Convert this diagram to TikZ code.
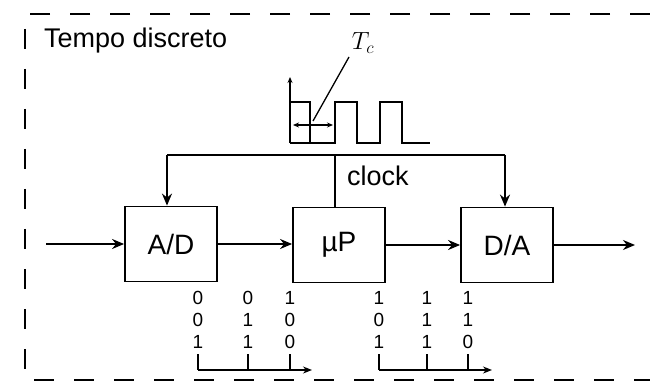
\documentclass[tikz,border=0pt]{standalone}
\usepackage{fontspec}
\setmainfont{Liberation Sans}
\usepackage{tikz}
\usetikzlibrary{arrows.meta,positioning,calc}

\tikzset{
  blk/.style={draw,line width=1.8pt,minimum width=92pt,minimum height=75pt,
    font=\fontsize{28}{30}\selectfont},
  arr/.style={line width=1.8pt,-{Stealth[length=12pt,width=10pt]}},
  bits/.style={align=center,font=\fontsize{19}{22}\selectfont,inner sep=0pt},
  frame/.style={line width=2pt,dash pattern=on 20pt off 20pt},
}

\begin{document}
\begin{tikzpicture}[x=1pt,y=-1pt,line width=1.5pt]
  \useasboundingbox (0,0) rectangle (650,387);
  % frame
  \draw[frame] (650,14) -- (25,14) -- (25,380) -- (650,380);
  \node[anchor=west,font=\fontsize{27}{30}\selectfont] (title) at (40,41) {Tempo discreto};

  % blocks
  \node[blk] (ad) at (171,244) {A/D};
  \node[blk] (up) at (339,245) {µP};
  \node[blk] (da) at (507,245) {D/A};

  \coordinate (in) at (46,244);
  \coordinate (out) at (635,245);
  \draw[arr] (in) -- (ad);
  \draw[arr] (ad) -- (up.west |- ad);
  \draw[arr] (up) -- (da);
  \draw[arr] (da) -- (out);

  % clock
  \coordinate (ckL) at (167,155);
  \coordinate (ckR) at (505,155);
  \draw (ckL) -- (ckR);
  \draw[arr] (ckL) -- (ckL |- ad.north);
  \draw[arr] (ckR) -- (ckR |- da.north);
  \draw (335,155) -- (335,0 |- up.north);
  \node[anchor=west,font=\fontsize{27}{30}\selectfont] (clk) at (343,176) {clock};

  % clock waveform
  \draw[line width=1.3pt,-{Stealth[length=6pt,width=5pt]}] (290,143) -- (290,77);
  \draw[line width=1.6pt] (290,102) -- (310,102) -- (310,143) -- (335,143) -- (335,102)
    -- (357,102) -- (357,143) -- (380,143) -- (380,102) -- (402,102) -- (402,143) -- (430,143);
  \draw[line width=1.3pt] (290,143) -- (310,143);
  \draw[line width=1.3pt,{Stealth[length=6pt,width=5pt]}-{Stealth[length=6pt,width=5pt]}] (293,125) -- (333,125);
  \node[font=\fontsize{26}{28}\selectfont] (tc) at (363,43) {$T_c$};
  \draw[line width=1.3pt] (349,57) -- (313,121);

  % bit words
  \foreach \x/\w [count=\i] in {198/{0\\0\\1},248/{0\\1\\1},290/{1\\0\\0},
                                 379/{1\\0\\1},427/{1\\1\\1},468/{1\\1\\0}}
    \node[bits] (b\i) at (\x,320) {\w};
  \foreach \i in {1,...,6}
    \draw[line width=1.4pt] ($(b\i.south)+(0,5)$) -- (b\i.south |- 0,370);
  \draw[line width=1.4pt,-{Stealth[length=9pt,width=7pt]}] (b1.south |- 0,370) -- (312,370);
  \draw[line width=1.4pt,-{Stealth[length=9pt,width=7pt]}] (b4.south |- 0,370) -- (492,370);
\end{tikzpicture}
\end{document}
